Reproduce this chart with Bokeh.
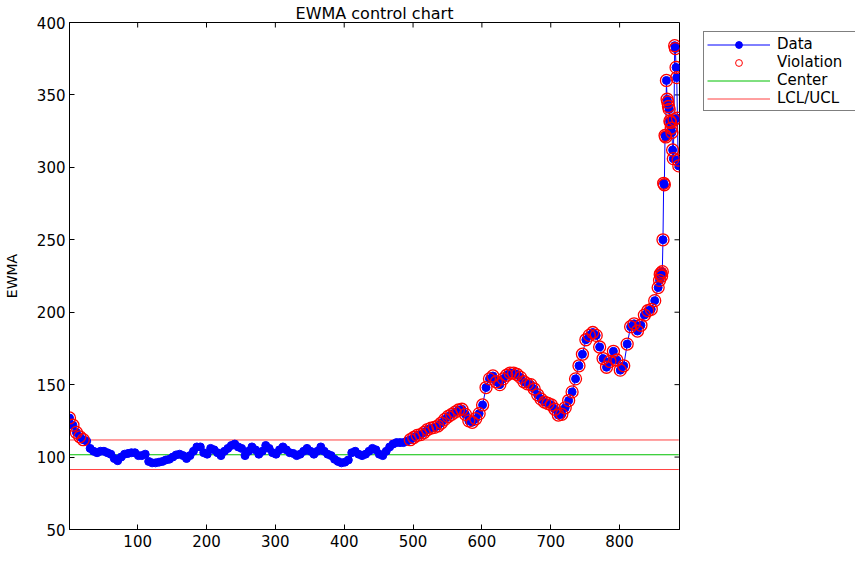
import math
from bokeh.plotting import figure
from bokeh.models import Range1d, Legend, LegendItem, FixedTicker
from bokeh.layouts import row
from bokeh.embed import file_html
from bokeh.resources import INLINE

chart_title = "EWMA control chart"
y_label = "EWMA"

# EWMA values read every 5th sample (samples 1, 6, 11, ..., 856)
main_values = [
    127, 122, 117, 114, 112, 111, 106, 104, 103, 104,
    104, 103, 102, 99, 97.5, 100, 102, 102.5, 103, 103,
    101, 101, 102, 97, 96, 96, 96.5, 97, 98, 98.5,
    100, 101.5, 102, 101, 99, 101, 104, 107, 107, 103,
    102, 106, 105, 103, 101, 104, 106, 108, 109, 107,
    106, 101, 104, 107, 105, 102, 104, 108, 106, 103,
    102, 105, 107, 105, 103, 102.5, 101, 102, 104, 106,
    104, 102, 104, 107, 104, 102, 101, 98.5, 97, 96,
    96.5, 98, 103, 104, 102, 101, 102, 104, 106, 105,
    102, 101, 104, 107, 109, 110, 110, 110, 111, 112,
    113.5, 115, 115.5, 117, 119, 120, 120.5, 121.5, 123.5, 126,
    128, 129.5, 131, 132.5, 133, 129.5, 125, 124, 126.5, 130,
    136, 148, 154, 156, 152, 150, 154, 156.5, 158, 158,
    157, 155, 152, 150.5, 150, 147, 143, 140, 138, 137,
    136, 133, 129, 129.5, 134, 139, 145, 154, 163, 171,
    181, 184, 186, 184, 176, 168, 162, 166, 173, 167,
    160, 163, 178, 190, 192, 187, 191, 198, 201, 202,
    208, 217,
]
main_samples = list(range(1, 857, 5))

# last samples, read individually
tail_samples = [858, 859, 860, 861, 862, 863, 864, 865, 866, 867,
                868, 869, 870, 871, 872, 873, 874, 875, 876, 877,
                878, 879, 880, 881, 882, 883, 884, 885, 886]
tail_values = [222, 226, 227, 225, 228, 250, 289, 288, 322, 321,
               360, 347, 345, 342, 340, 332, 331, 327, 324, 312,
               306, 333, 384, 382, 369, 362, 334, 305, 301]

center = 101.6
ucl = 111.8
lcl = 91.4
n_samples = 887
y_min, y_max = 50, 400

x_ticks = [100, 200, 300, 400, 500, 600, 700, 800]
y_ticks = [50, 100, 150, 200, 250, 300, 350, 400]

samples = main_samples + tail_samples
values = main_values + tail_values
viol_x = [s for s, v in zip(samples, values) if v > ucl or v < lcl]
viol_y = [v for v in values if v > ucl or v < lcl]

FONT = "DejaVu Sans"
BLUE = "#0000ff"
RED = "#ff0000"
LIMIT_RED = "#ff4040"
GREEN = "#00c000"

p = figure(width=680, height=556, output_backend="svg", toolbar_location=None,
           x_range=Range1d(1, n_samples), y_range=Range1d(y_min, y_max),
           min_border_left=69, min_border_right=1, min_border_top=22,
           min_border_bottom=27)
p.title.text = chart_title
p.title.align = "center"
p.title.text_font = FONT
p.title.text_font_size = "16px"
p.title.text_font_style = "normal"
p.title.text_color = "black"
p.title.standoff = 0
p.title.offset = 0

p.xgrid.visible = False
p.ygrid.visible = False
p.outline_line_color = "black"
p.outline_line_width = 1
p.background_fill_color = "white"
p.border_fill_color = "white"

for ax in (p.xaxis[0], p.yaxis[0]):
    ax.major_tick_in = 5
    ax.major_tick_out = 0
    ax.minor_tick_in = 0
    ax.minor_tick_out = 0
    ax.axis_line_color = "black"
    ax.major_tick_line_color = "black"
    ax.major_label_text_font = FONT
    ax.major_label_text_font_size = "15px"
    ax.major_label_text_color = "black"
p.xaxis.ticker = FixedTicker(ticks=x_ticks)
p.yaxis.ticker = FixedTicker(ticks=y_ticks)
p.xaxis.major_label_standoff = 5
p.yaxis.major_label_standoff = 4
p.yaxis.axis_label = y_label
p.yaxis.axis_label_text_font = FONT
p.yaxis.axis_label_text_font_size = "14px"
p.yaxis.axis_label_text_font_style = "normal"
p.yaxis.axis_label_text_color = "black"
p.yaxis.axis_label_standoff = 14

# inward tick marks on the top and right edges of the box (clipped to the frame)
p.scatter(x_ticks, [y_max] * len(x_ticks), marker="dash", angle=math.pi / 2,
          size=10, line_color="black", line_width=1)
p.scatter([n_samples] * len(y_ticks), y_ticks, marker="dash",
          size=10, line_color="black", line_width=1)

x0 = samples[0]
x1 = samples[-1]
p.line([x0, x1], [center, center], line_color=GREEN, line_width=1)
p.line([x0, x1], [ucl, ucl], line_color=LIMIT_RED, line_width=1)
p.line([x0, x1], [lcl, lcl], line_color=LIMIT_RED, line_width=1)

p.line(samples, values, line_color=BLUE, line_width=1)
p.scatter(samples, values, marker="circle", size=8, fill_color=BLUE, line_color=BLUE)
p.scatter(viol_x, viol_y, marker="circle", size=12, fill_color=None,
          line_color=RED, line_width=1.3)

# legend panel to the right of the axes box; its key glyphs reuse a data point
# that lies outside this panel's own 0..1 ranges, so only the legend shows
q = figure(width=175, height=556, output_backend="svg", toolbar_location=None,
           x_range=Range1d(0, 1), y_range=Range1d(0, 1),
           min_border_left=0, min_border_right=0, min_border_top=0, min_border_bottom=0)
q.axis.visible = False
q.xgrid.visible = False
q.ygrid.visible = False
q.outline_line_color = None
q.background_fill_color = "white"
q.border_fill_color = "white"

kx = samples[:2]
ky = values[:2]
k_line = q.line(kx, ky, line_color=BLUE, line_width=1)
k_pts = q.scatter(kx, ky, marker="circle", size=7, fill_color=BLUE, line_color=BLUE)
k_viol = q.scatter(kx, ky, marker="circle", size=11, fill_color=None,
                   line_color=RED, line_width=1)
k_center = q.line(kx, [center, center], line_color=GREEN, line_width=1)
k_limit = q.line(kx, [ucl, ucl], line_color=LIMIT_RED, line_width=1)

legend = Legend(items=[
    LegendItem(label="Data", renderers=[k_line, k_pts]),
    LegendItem(label="Violation", renderers=[k_viol]),
    LegendItem(label="Center", renderers=[k_center]),
    LegendItem(label="LCL/UCL", renderers=[k_limit]),
], location=(23, 418))
legend.label_text_font = FONT
legend.label_text_font_size = "15px"
legend.label_text_color = "black"
legend.glyph_width = 63
legend.glyph_height = 17
legend.label_height = 17
legend.label_width = 78
legend.label_standoff = 7
legend.spacing = 0
legend.padding = 3
legend.margin = 0
legend.border_line_color = "black"
legend.border_line_width = 1
legend.background_fill_alpha = 1
q.add_layout(legend, "center")

layout = row(p, q)
open("out.html", "w").write(file_html(layout, INLINE))
